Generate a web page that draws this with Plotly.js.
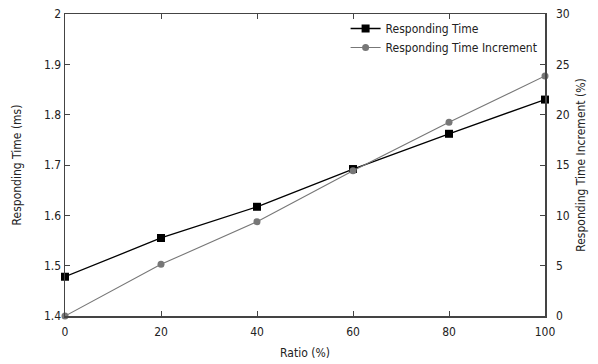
<!DOCTYPE html>
<html>
<head>
<meta charset="utf-8">
<script src="https://cdn.plot.ly/plotly-3.0.1.min.js"></script>
<style>html,body{margin:0;padding:0;background:#fff}#chart{width:598px;height:364px}</style>
</head>
<body>
<div id="chart"></div>
<script>
var ratio = [0, 20, 40, 60, 80, 100];
var respondingTime = [1.478, 1.555, 1.617, 1.692, 1.762, 1.830];
var timeIncrement = [0, 5.13, 9.37, 14.43, 19.24, 23.84];
var seriesNames = ["Responding Time", "Responding Time Increment"];

var font = {family: "DejaVu Sans Condensed, DejaVu Sans, sans-serif", size: 12, color: "#222"};

var traces = [
  {x: ratio, y: respondingTime, name: seriesNames[0], type: "scatter", mode: "lines+markers", cliponaxis: false,
   line: {color: "#000", width: 1.3}, marker: {symbol: "square", size: 8, color: "#000"}, yaxis: "y"},
  {x: ratio, y: timeIncrement, name: seriesNames[1], type: "scatter", mode: "lines+markers", cliponaxis: false,
   line: {color: "#777", width: 1.1}, marker: {symbol: "circle", size: 7, color: "#777"}, yaxis: "y2"}
];

var layout = {
  width: 598, height: 364,
  margin: {l: 65, r: 53, t: 14, b: 48},
  paper_bgcolor: "#fff", plot_bgcolor: "#fff",
  font: font,
  showlegend: true,
  legend: {x: 0.995, y: 1.0, xanchor: "right", yanchor: "top", bgcolor: "rgba(0,0,0,0)", font: font, tracegroupgap: 0, itemwidth: 30},
  xaxis: {
    range: [0, 100], tickvals: ratio, ticks: "inside", ticklen: 5, tickcolor: "#444",
    showline: true, linecolor: "#444", linewidth: 1.5, mirror: "ticks",
    showgrid: false, zeroline: false, ticklabelstandoff: 4,
    title: {text: "Ratio (%)", font: font, standoff: 10}
  },
  yaxis: {
    range: [1.4, 2.0], dtick: 0.1, tick0: 1.4, ticks: "inside", ticklen: 5, tickcolor: "#444",
    showline: true, linecolor: "#444", linewidth: 1.5, mirror: true,
    showgrid: false, zeroline: false, tickformat: "~g",
    title: {text: "Responding Time (ms)", font: font, standoff: 19}
  },
  yaxis2: {
    overlaying: "y", side: "right", range: [0, 30], dtick: 5, ticks: "inside", ticklen: 5, tickcolor: "#444",
    showline: true, linecolor: "#444", linewidth: 1.5, ticklabelstandoff: 7,
    showgrid: false, zeroline: false,
    title: {text: "Responding Time Increment (%)", font: font, standoff: 8}
  }
};

Plotly.newPlot("chart", traces, layout, {displayModeBar: false, staticPlot: true});
</script>
</body>
</html>
